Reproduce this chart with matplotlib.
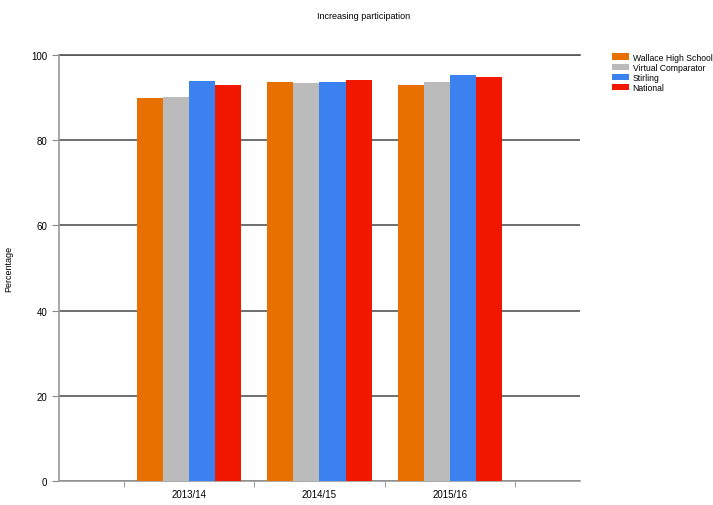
import matplotlib

matplotlib.use("Agg")
import matplotlib.pyplot as plt  # noqa: E402
import numpy as np  # noqa: E402

plt.rcParams["font.family"] = ["Liberation Sans", "DejaVu Sans"]

years = ["2013/14", "2014/15", "2015/16"]
series_names = ["Wallace High School", "Virtual Comparator", "Stirling", "National"]
wallace = [90.0, 93.6, 93.0]
comparator = [90.2, 93.4, 93.6]
stirling = [93.9, 93.6, 95.2]
national = [92.9, 94.1, 94.8]
colors = ["#E87000", "#BBBBBB", "#3B82F0", "#F21800"]

fig = plt.figure(figsize=(7.13, 5.06), dpi=100)
ax = fig.add_axes([0.0827, 0.0474, 0.7307, 0.8419])

x = np.arange(len(years))
width = 0.2
for i, (vals, name) in enumerate(zip([wallace, comparator, stirling, national], series_names)):
    ax.bar(x - 0.3 + i * width, vals, width, color=colors[i], label=name, zorder=3)

ax.set_xlim(-1, 3)
ax.set_ylim(0, 100)
ax.set_yticks(range(0, 101, 20))
ax.yaxis.grid(True, color="#555555", linewidth=1.2, zorder=0)
ax.axhline(100, color="#555555", linewidth=1.2, zorder=1, clip_on=False)
ax.set_xticks(x)
ax.set_xticklabels(years)
ax.set_xticks(np.arange(-0.5, 3, 1), minor=True)
ax.tick_params(axis="x", which="major", length=0, labelsize=7, pad=6)
ax.tick_params(axis="x", which="minor", length=4, color="#888888")
ax.tick_params(axis="y", labelsize=7, length=5, color="#888888")

for side in ["top", "right"]:
    ax.spines[side].set_visible(False)
for side in ["left", "bottom"]:
    ax.spines[side].set_color("#999999")
    ax.spines[side].set_linewidth(1.2)

ax.set_ylabel("Percentage", fontsize=6.5)
ax.yaxis.set_label_coords(-0.088, 0.5)
fig.text(0.51, 0.962, "Increasing participation", fontsize=6.5, ha="center")

ax.legend(loc="upper left", bbox_to_anchor=(1.05, 1.02), frameon=False,
          fontsize=6.2, handlelength=2.0, handleheight=0.7, labelspacing=0.12,
          handletextpad=0.4, borderaxespad=0.3)

fig.savefig("out.png", dpi=100)
